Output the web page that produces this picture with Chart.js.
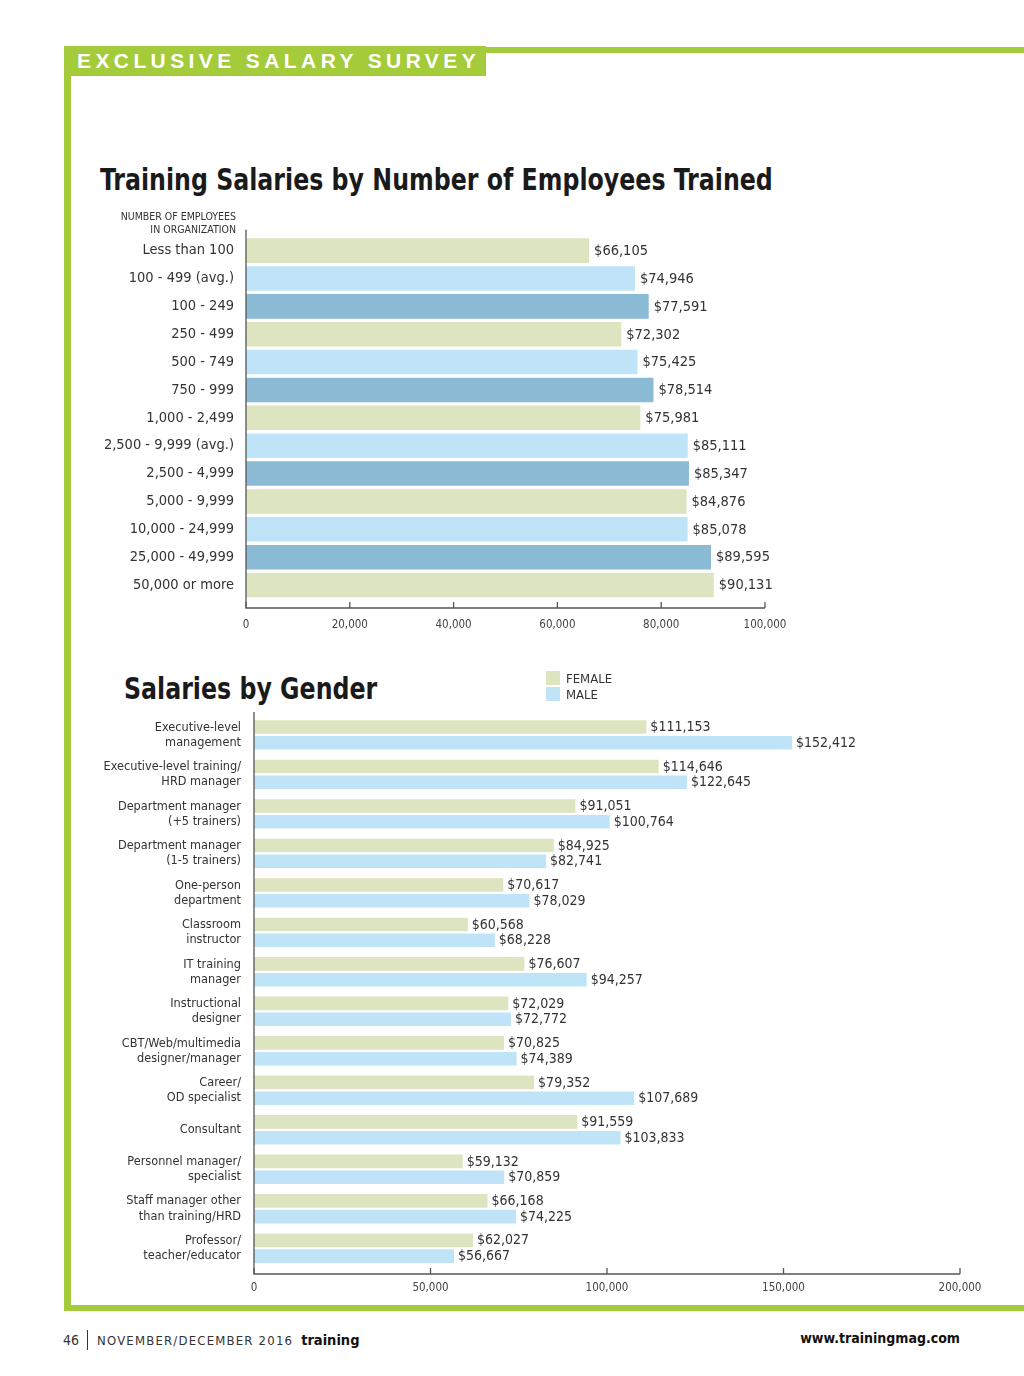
<!DOCTYPE html>
<html>
<head>
<meta charset="utf-8">
<script src="https://cdn.jsdelivr.net/npm/chart.js@4"></script>
<style>
  html, body { margin:0; padding:0; background:#fff; }
  body { width:1024px; height:1376px; position:relative; overflow:hidden;
         font-family:"Liberation Sans Narrow","DejaVu Sans Condensed","Roboto Condensed",sans-serif; color:#333; }
  .abs { position:absolute; }
  #topline { left:486px; top:47px; width:538px; height:6px; background:#a4cb3a; }
  #banner { left:64px; top:46px; width:422px; height:30px; background:#a4cb3a; }
  #banner span { position:absolute; left:13px; top:3px; color:#fff; font-family:"Liberation Sans","Arial",sans-serif;
                 font-weight:bold; font-size:21px; letter-spacing:4.4px; white-space:nowrap; }
  #leftbar { left:64px; top:46px; width:7px; height:1265px; background:#a4cb3a; }
  #bottombar { left:64px; top:1305px; width:960px; height:6px; background:#a4cb3a; }
  .title { font-weight:bold; color:#1a1a1a; font-size:31px; white-space:nowrap; transform:scaleX(0.85); transform-origin:0 0; }
  #t1 { left:100px; top:161px; }
  #t2 { left:124px; top:670px; }
  #hdr { right:788px; top:210px; text-align:right; font-size:10.5px; line-height:13px; color:#333; }
  #legend { left:546px; top:670px; font-size:13px; color:#333; }
  #legend div { height:16px; line-height:15px; display:flex; align-items:center; }
  #legend i { display:inline-block; width:14px; height:14px; margin-right:6px; }
  #c1wrap { left:80px; top:216px; width:740px; height:429px; }
  #c2wrap { left:80px; top:687px; width:920px; height:618px; }
  #footer { left:63px; top:1330px; font-size:14px; color:#333; white-space:nowrap; }
  #footer .pg { font-size:14px; }
  #footer .sep { display:inline-block; width:1px; height:20px; background:#333; vertical-align:-5px; margin:0 9px 0 8px; }
  #footer .mo { letter-spacing:1.2px; font-size:13px; }
  #footer b { color:#111; font-size:14.5px; margin-left:4px; }
  #url { right:64px; top:1330px; font-size:14px; font-weight:bold; color:#111; }
</style>
</head>
<body>
<div id="topline" class="abs"></div>
<div id="banner" class="abs"><span>EXCLUSIVE SALARY SURVEY</span></div>
<div id="leftbar" class="abs"></div>
<div id="bottombar" class="abs"></div>

<div id="t1" class="abs title">Training Salaries by Number of Employees Trained</div>
<div id="c1wrap" class="abs"><canvas id="c1"></canvas></div>
<div id="hdr" class="abs">NUMBER OF EMPLOYEES<br>IN ORGANIZATION</div>

<div id="t2" class="abs title">Salaries by Gender</div>
<div id="c2wrap" class="abs"><canvas id="c2"></canvas></div>
<div id="legend" class="abs"></div>

<div id="footer" class="abs"><span class="pg">46</span><span class="sep"></span><span class="mo">NOVEMBER/DECEMBER 2016</span> <b>training</b></div>
<div id="url" class="abs">www.trainingmag.com</div>

<script>
// ---------- DATA ----------
const sizeCategories = ["Less than 100","100 - 499 (avg.)","100 - 249","250 - 499","500 - 749","750 - 999",
  "1,000 - 2,499","2,500 - 9,999 (avg.)","2,500 - 4,999","5,000 - 9,999","10,000 - 24,999","25,000 - 49,999","50,000 or more"];
const sizeSalaries = [66105,74946,77591,72302,75425,78514,75981,85111,85347,84876,85078,89595,90131];
const sizeTicks = [0,20000,40000,60000,80000,100000];

const jobCategories = [
  ["Executive-level","management"],
  ["Executive-level training/","HRD manager"],
  ["Department manager","(+5 trainers)"],
  ["Department manager","(1-5 trainers)"],
  ["One-person","department"],
  ["Classroom","instructor"],
  ["IT training","manager"],
  ["Instructional","designer"],
  ["CBT/Web/multimedia","designer/manager"],
  ["Career/","OD specialist"],
  ["Consultant"],
  ["Personnel manager/","specialist"],
  ["Staff manager other","than training/HRD"],
  ["Professor/","teacher/educator"]
];
const femaleSalaries = [111153,114646,91051,84925,70617,60568,76607,72029,70825,79352,91559,59132,66168,62027];
const maleSalaries   = [152412,122645,100764,82741,78029,68228,94257,72772,74389,107689,103833,70859,74225,56667];
const genderTicks = [0,50000,100000,150000,200000];
const seriesNames = ["FEMALE","MALE"];

// ---------- STYLE ----------
const GREEN = "#dce5bf", LBLUE = "#bfe4f7", DBLUE = "#8bbbd4";
const FONT = '"Liberation Sans Narrow","DejaVu Sans Condensed","Roboto Condensed",sans-serif';
const fmt = v => "$" + v.toLocaleString("en-US");
const tickFmt = v => v.toLocaleString("en-US");

// value labels + custom axis lines/ticks drawn from the library's scales
function makePlugin(opts) {
  return {
    id: "custom" + opts.id,
    afterDatasetsDraw(chart) {
      const ctx = chart.ctx;
      const { left, right, top, bottom } = chart.chartArea;
      const xs = chart.scales.x;
      ctx.save();
      ctx.strokeStyle = "#555";
      ctx.lineWidth = 1.3;
      const axisY = bottom + opts.axisGap;
      ctx.beginPath();
      ctx.moveTo(left, top - opts.topExt);
      ctx.lineTo(left, axisY);
      ctx.lineTo(xs.getPixelForValue(xs.max), axisY);
      ctx.stroke();
      xs.ticks.forEach(t => {
        const x = xs.getPixelForValue(t.value);
        ctx.beginPath();
        ctx.moveTo(x, axisY);
        ctx.lineTo(x, axisY - 6);
        ctx.stroke();
      });
      ctx.fillStyle = "#333";
      ctx.font = opts.labelFont + "px " + FONT;
      ctx.textBaseline = "middle";
      ctx.textAlign = "left";
      chart.data.datasets.forEach((ds, di) => {
        const meta = chart.getDatasetMeta(di);
        meta.data.forEach((bar, i) => {
          ctx.fillText(fmt(ds.data[i]), bar.x + opts.labelGap, bar.y + 0.5);
        });
      });
      ctx.restore();
    }
  };
}

function xAxis(ticks, pad, height) {
  return {
    type: "linear", min: ticks[0], max: ticks[ticks.length-1],
    afterBuildTicks: s => { s.ticks = ticks.map(v => ({ value: v })); },
    grid: { display: false, drawTicks: false },
    border: { display: false },
    ticks: { color: "#444", font: { size: 11.5, family: FONT }, padding: pad, callback: tickFmt, maxRotation: 0 },
    afterFit: s => { s.height = height; }
  };
}

// ---------- CHART 1 ----------
const barColors1 = sizeCategories.map((_, i) => [GREEN, LBLUE, DBLUE][i % 3]);
new Chart(document.getElementById("c1"), {
  type: "bar",
  data: { labels: sizeCategories,
    datasets: [{ label: "Salary", data: sizeSalaries, backgroundColor: barColors1,
      barPercentage: 0.88, categoryPercentage: 1.0 }] },
  options: {
    indexAxis: "y", responsive: true, maintainAspectRatio: false, animation: false,
    layout: { padding: { top: 0, right: 55, left: 0, bottom: 0 } },
    plugins: { legend: { display: false }, tooltip: { enabled: false } },
    scales: {
      x: xAxis(sizeTicks, 19, 46),
      y: { grid: { display: false, drawTicks: false }, border: { display: false },
        ticks: { color: "#333", font: { size: 14.5, family: FONT }, padding: 12 },
        afterFit: s => { s.width = 166; } }
    }
  },
  plugins: [makePlugin({ id: 1, axisGap: 9, topExt: 7, labelFont: 14.5, labelGap: 5 })]
});

// ---------- CHART 2 ----------
const chart2 = new Chart(document.getElementById("c2"), {
  type: "bar",
  data: { labels: jobCategories,
    datasets: [
      { label: seriesNames[0], data: femaleSalaries, backgroundColor: GREEN, barPercentage: 0.86, categoryPercentage: 0.8 },
      { label: seriesNames[1], data: maleSalaries, backgroundColor: LBLUE, barPercentage: 0.86, categoryPercentage: 0.8 }
    ] },
  options: {
    indexAxis: "y", responsive: true, maintainAspectRatio: false, animation: false,
    layout: { padding: { top: 0, right: 40, left: 0, bottom: 0 } },
    plugins: { legend: { display: false }, tooltip: { enabled: false } },
    scales: {
      x: xAxis(genderTicks, 13, 37),
      y: { grid: { display: false, drawTicks: false }, border: { display: false },
        ticks: { color: "#333", font: { size: 12.6, family: FONT, lineHeight: 1.2 }, padding: 13 },
        afterFit: s => { s.width = 174; } }
    }
  },
  plugins: [makePlugin({ id: 2, axisGap: 6, topExt: 3, labelFont: 14, labelGap: 4 })]
});

// HTML legend from dataset definitions
const leg = document.getElementById("legend");
chart2.data.datasets.forEach(ds => {
  const row = document.createElement("div");
  const sw = document.createElement("i");
  sw.style.background = ds.backgroundColor;
  row.appendChild(sw);
  row.appendChild(document.createTextNode(ds.label));
  leg.appendChild(row);
});
</script>
</body>
</html>
